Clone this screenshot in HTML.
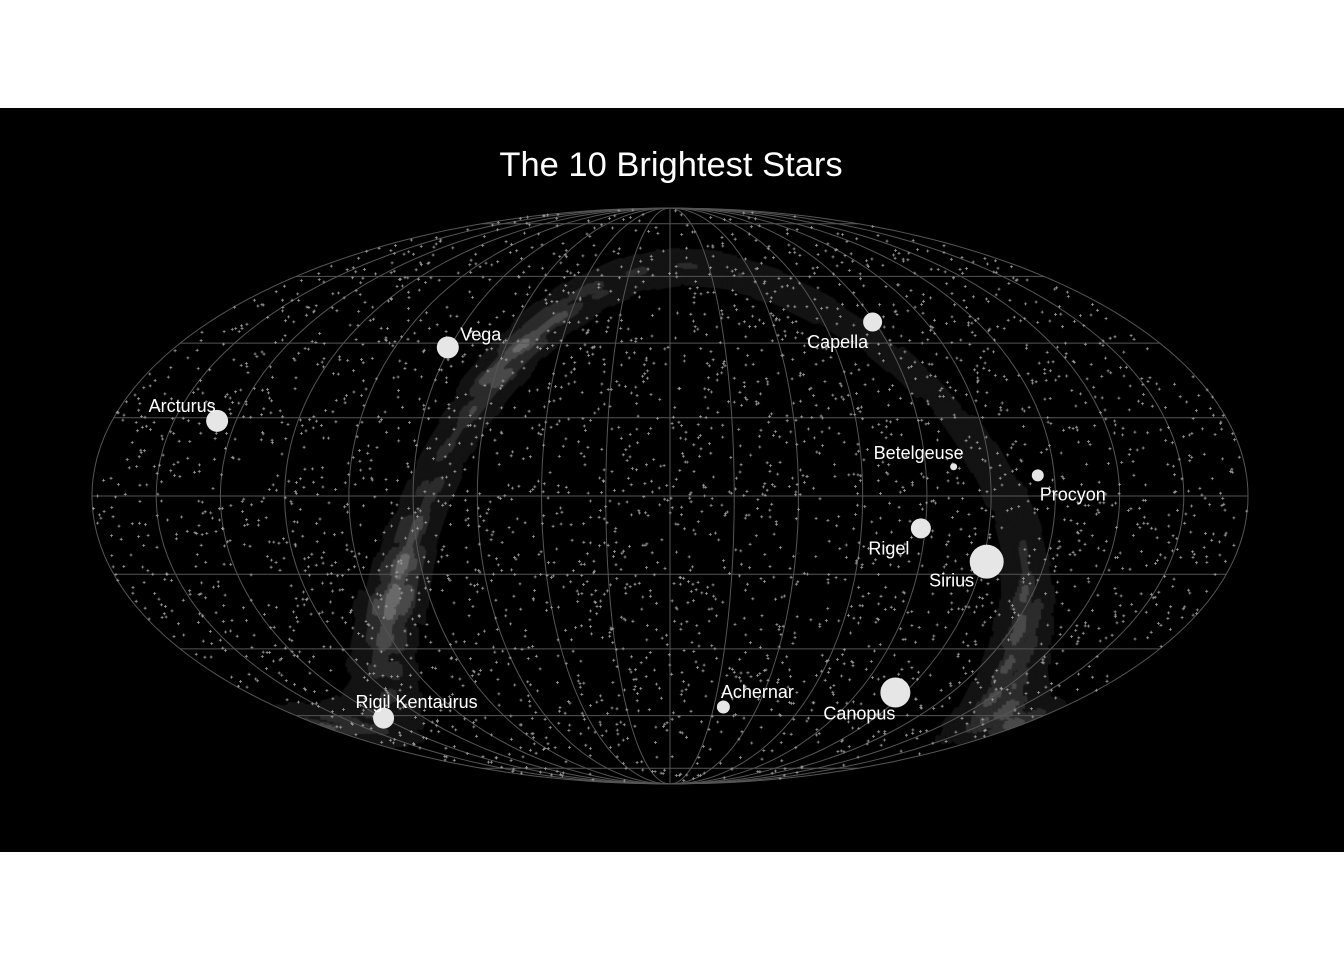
<!DOCTYPE html>
<html><head><meta charset="utf-8">
<style>
html,body{margin:0;padding:0;background:#fff;}
#wrap{position:relative;width:1344px;height:960px;background:#fff;overflow:hidden;}
#panel{position:absolute;left:0;top:108px;width:1344px;height:744px;background:#000;}
canvas,svg{position:absolute;left:0;top:0;}
</style></head>
<body>
<div id="wrap">
<div id="panel"></div>
<canvas id="mw" width="1344" height="960"></canvas>
<svg id="sv" width="1344" height="960" xmlns="http://www.w3.org/2000/svg">
<text x="671" y="176" text-anchor="middle" fill="#fff" font-family="Liberation Sans, sans-serif" font-size="34.5">The 10 Brightest Stars</text>
<g id="grid"></g>
<g id="field"></g>
<g id="bright"></g>
</svg>
</div>
<script>
const starNames=["Sirius","Canopus","Rigil Kentaurus","Arcturus","Vega","Capella","Rigel","Procyon","Achernar","Betelgeuse"];
const starRA=[101.29,95.99,219.9,213.9,279.23,79.17,78.63,114.83,24.43,88.79];
const starDec=[-16.72,-52.70,-60.83,19.18,38.78,46.0,-8.20,5.22,-57.24,7.41];
const starSize=[17,15,10.5,11,11,9.5,10,6,6.5,3.5];
const labelDx=[-35,-36,33,-35,33,-35,-32,35,34,-35];
const labelDy=[19,21,-16,-15,-13,20,20,19,-15,-14];

const CX=670,CY=496,A=578,B=288;
function proj(ra,dec){
  let lam=((ra+180)%360+360)%360-180;
  const phi=dec*Math.PI/180;
  let t=phi;
  if(Math.abs(Math.abs(dec)-90)>1e-6){
    for(let i=0;i<30;i++){const f=2*t+Math.sin(2*t)-Math.PI*Math.sin(phi);const d=2+2*Math.cos(2*t);if(Math.abs(d)<1e-9)break;t-=f/d;}
  }
  return [CX+A*(lam/180)*Math.cos(t), CY-B*Math.sin(t)];
}
const NS="http://www.w3.org/2000/svg";
const grid=document.getElementById('grid');
function pathFrom(pts){return 'M'+pts.map(p=>p[0].toFixed(1)+','+p[1].toFixed(1)).join('L');}
for(let lon=-180;lon<=180;lon+=20){
  const pts=[];for(let d=-90;d<=90;d+=1){pts.push(proj(lon===180?179.999:(lon===-180?-179.999:lon),d));}
  const p=document.createElementNS(NS,'path');p.setAttribute('d',pathFrom(pts));
  p.setAttribute('stroke','#555');p.setAttribute('fill','none');p.setAttribute('stroke-width','1');
  
  
  grid.appendChild(p);
}
for(let lat=-80;lat<=80;lat+=20){
  const pts=[];for(let l=-179.999;l<=179.999;l+=2){pts.push(proj(l,lat));}pts.push(proj(179.999,lat));
  const p=document.createElementNS(NS,'path');p.setAttribute('d',pathFrom(pts));
  p.setAttribute('stroke','#555');p.setAttribute('fill','none');p.setAttribute('stroke-width','1');
  
  
  grid.appendChild(p);
}
const aG=192.859508*Math.PI/180,dG=27.128336*Math.PI/180,lN=122.932*Math.PI/180;
function gal2eq(l,b){
  l*=Math.PI/180;b*=Math.PI/180;
  const sd=Math.sin(dG)*Math.sin(b)+Math.cos(dG)*Math.cos(b)*Math.cos(lN-l);
  const y=Math.cos(b)*Math.sin(lN-l);
  const x=Math.cos(dG)*Math.sin(b)-Math.sin(dG)*Math.cos(b)*Math.cos(lN-l);
  return [(aG+Math.atan2(y,x))*180/Math.PI, Math.asin(sd)*180/Math.PI];
}
const ctx=document.getElementById('mw').getContext('2d');
ctx.save();
ctx.beginPath();ctx.ellipse(CX,CY,A,B,0,0,Math.PI*2);ctx.clip();
function lum(l){
  l=((l%360)+360)%360;
  let v=0.4;
  v+=0.6*Math.exp(-Math.pow(((l+180)%360-180-5)/22,2));
  v+=0.45*Math.exp(-Math.pow((l-75)/18,2));
  v+=0.35*Math.exp(-Math.pow((l-285)/20,2));
  v+=0.3*Math.exp(-Math.pow((l-250)/15,2));
  v-=0.2*Math.exp(-Math.pow((l-180)/35,2));
  return v;
}
const cols=[[0.1,'#141414'],[0.4,'#2c2c2c'],[0.62,'#4a4a4a'],[0.85,'#6a6a6a']];
for(let lv=0;lv<cols.length;lv++){
  ctx.fillStyle=cols[lv][1];
  for(let l=0;l<360;l+=0.6){
    for(let b=-14;b<=14;b+=0.6){
      const noise=0.85+0.25*Math.sin(l*0.37+b*0.9)*Math.cos(l*0.21-b*0.5);
      const I=lum(l)*Math.exp(-Math.pow((b+1.5*Math.sin(l*0.05))/5.5,2))*noise;
      if(I>cols[lv][0]){
        const e=gal2eq(l,b);const p=proj(e[0],e[1]);
        ctx.fillRect(p[0]-2.2,p[1]-2.2,4.4,4.4);
      }
    }
  }
}
ctx.restore();
let seed=12345;function rnd(){seed=(seed*1103515245+12345)&0x7fffffff;return seed/0x7fffffff;}
let d='';
for(let i=0;i<3200;i++){
  const ra=rnd()*360;const dec=Math.asin(2*rnd()-1)*180/Math.PI;
  const p=proj(ra,dec);
  d+='M'+(p[0]-1.5).toFixed(1)+','+p[1].toFixed(1)+'h3M'+p[0].toFixed(1)+','+(p[1]-1.5).toFixed(1)+'v3';
}
const fp=document.createElementNS(NS,'path');fp.setAttribute('d',d);fp.setAttribute('stroke','#9a9a9a');fp.setAttribute('stroke-width','0.8');


document.getElementById('field').appendChild(fp);
const bg=document.getElementById('bright');
for(let i=0;i<starNames.length;i++){
  const p=proj(starRA[i],starDec[i]);
  const c=document.createElementNS(NS,'circle');
  c.setAttribute('cx',p[0]);c.setAttribute('cy',p[1]);c.setAttribute('r',starSize[i]);c.setAttribute('fill','#e6e6e6');
  
  
  bg.appendChild(c);
}
for(let i=0;i<starNames.length;i++){
  const p=proj(starRA[i],starDec[i]);
  const t=document.createElementNS(NS,'text');
  t.setAttribute('x',p[0]+labelDx[i]);t.setAttribute('y',p[1]+labelDy[i]+6);
  t.setAttribute('text-anchor','middle');t.setAttribute('fill','#fff');
  t.setAttribute('font-family','Liberation Sans, sans-serif');t.setAttribute('font-size','18');
  t.textContent=starNames[i];
  
  
  bg.appendChild(t);
}
</script>
</body></html>
